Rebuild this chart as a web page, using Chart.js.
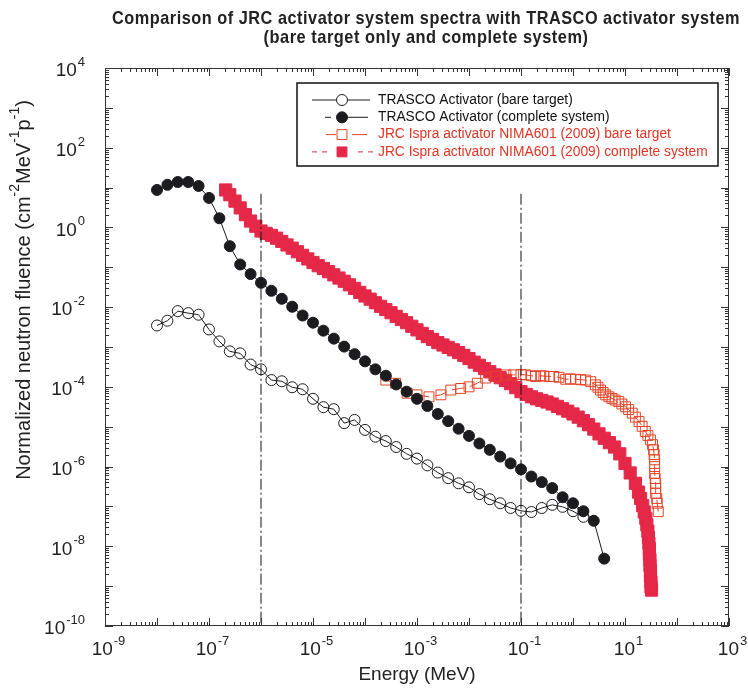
<!DOCTYPE html>
<html>
<head>
<meta charset="utf-8">
<script src="https://cdn.jsdelivr.net/npm/chart.js@4.4.0/dist/chart.umd.min.js"></script>
<style>
  html, body { margin: 0; padding: 0; background: #fff; }
  #wrap { width: 748px; height: 689px; }
</style>
</head>
<body>
<div id="wrap"><canvas id="spectra" width="748" height="689"></canvas></div>
<script>
// TRASCO activator, log10(E / MeV) grid and log10 fluence
const trascoLogE = [-8.0, -7.8, -7.6, -7.4, -7.2, -7.0, -6.8, -6.6, -6.4, -6.2,
                    -6.0, -5.8, -5.6, -5.4, -5.2, -5.0, -4.8, -4.6, -4.4, -4.2,
                    -4.0, -3.8, -3.6, -3.4, -3.2, -3.0, -2.8, -2.6, -2.4, -2.2,
                    -2.0, -1.8, -1.6, -1.4, -1.2, -1.0, -0.8, -0.6, -0.4, -0.2,
                    0.0, 0.2, 0.4, 0.6];
const trascoBare = [-2.46, -2.34, -2.10, -2.15, -2.19, -2.56, -2.86, -3.11, -3.16, -3.44,
                    -3.56, -3.83, -3.86, -4.01, -4.06, -4.30, -4.51, -4.56, -4.91, -4.83,
                    -5.08, -5.25, -5.36, -5.51, -5.68, -5.80, -5.97, -6.15, -6.29, -6.42,
                    -6.52, -6.69, -6.82, -6.92, -7.04, -7.11, -7.14, -7.04, -6.96, -7.01,
                    -7.12, -7.26];
const trascoComplete = [0.94, 1.07, 1.14, 1.14, 1.04, 0.74, 0.23, -0.47, -0.93, -1.17,
                        -1.39, -1.59, -1.79, -1.99, -2.21, -2.39, -2.59, -2.79, -2.99, -3.18,
                        -3.36, -3.56, -3.72, -3.94, -4.12, -4.30, -4.48, -4.68, -4.86, -5.05,
                        -5.23, -5.42, -5.58, -5.75, -5.92, -6.07, -6.25, -6.39, -6.54, -6.77,
                        -6.92, -7.12, -7.36, -8.31];

// JRC Ispra NIMA601 (2009), bare target
const jrcBareLogE = [-3.60, -3.41, -3.19, -3.00, -2.77, -2.54, -2.35, -2.16, -2.00, -1.84,
                     -1.68, -1.49, -1.29, -1.14, -1.00, -0.91, -0.80, -0.72, -0.62, -0.56,
                     -0.45, -0.37, -0.27, -0.14, -0.05, 0.05, 0.15, 0.24, 0.34, 0.43,
                     0.48, 0.53, 0.58, 0.63, 0.69, 0.75, 0.81, 0.88, 0.94, 1.01,
                     1.07, 1.14, 1.20, 1.27, 1.33, 1.39, 1.44, 1.49, 1.53, 1.55,
                     1.56, 1.57, 1.57, 1.57, 1.58, 1.59, 1.59, 1.59, 1.61, 1.62, 1.64];
const jrcBare = [-3.83, -3.91, -4.16, -4.20, -4.25, -4.20, -4.08, -4.04, -4.00, -3.91,
                 -3.78, -3.74, -3.70, -3.70, -3.69, -3.70, -3.72, -3.74, -3.72, -3.73,
                 -3.74, -3.74, -3.76, -3.81, -3.80, -3.81, -3.82, -3.83, -3.87, -3.95,
                 -4.01, -4.08, -4.14, -4.20, -4.25, -4.29, -4.33, -4.37, -4.43, -4.50,
                 -4.57, -4.66, -4.76, -4.87, -4.99, -5.12, -5.22, -5.33, -5.45, -5.58,
                 -5.70, -5.83, -6.00, -6.17, -6.30, -6.42, -6.55, -6.67, -6.80, -6.92, -7.13];

// JRC Ispra NIMA601 (2009), complete system
const jrcCompleteLogE = [-6.68, -6.60, -6.50, -6.40, -6.30, -6.20, -6.10, -6.00, -5.90, -5.80,
                         -5.70, -5.60, -5.50, -5.40, -5.30, -5.20, -5.10, -5.00, -4.90, -4.80,
                         -4.70, -4.60, -4.50, -4.40, -4.30, -4.20, -4.10, -4.00, -3.90, -3.80,
                         -3.70, -3.60, -3.50, -3.40, -3.30, -3.20, -3.10, -3.00, -2.90, -2.80,
                         -2.70, -2.60, -2.50, -2.40, -2.30, -2.20, -2.10, -2.00, -1.90, -1.80,
                         -1.70, -1.60, -1.50, -1.40, -1.30, -1.20, -1.10, -1.00, -0.90, -0.80,
                         -0.70, -0.60, -0.50, -0.40, -0.30, -0.20, -0.10, 0.00, 0.10, 0.20,
                         0.30, 0.40, 0.50, 0.60, 0.70, 0.80, 0.90, 1.00, 1.10, 1.20,
                         1.26, 1.30, 1.34, 1.37, 1.40, 1.42, 1.44, 1.45, 1.46, 1.47,
                         1.47, 1.48, 1.48, 1.49, 1.49, 1.50, 1.50, 1.51];
const jrcComplete = [0.94, 0.82, 0.66, 0.49, 0.32, 0.16, 0.03, -0.09, -0.15, -0.20,
                     -0.27, -0.35, -0.44, -0.52, -0.61, -0.70, -0.79, -0.88, -0.96, -1.03,
                     -1.11, -1.19, -1.27, -1.35, -1.44, -1.53, -1.63, -1.72, -1.80, -1.89,
                     -1.98, -2.06, -2.14, -2.23, -2.31, -2.39, -2.48, -2.57, -2.66, -2.74,
                     -2.81, -2.89, -2.95, -3.01, -3.07, -3.14, -3.21, -3.29, -3.38, -3.46,
                     -3.54, -3.62, -3.70, -3.77, -3.84, -3.92, -4.02, -4.12, -4.19, -4.25,
                     -4.30, -4.34, -4.38, -4.43, -4.49, -4.55, -4.61, -4.68, -4.76, -4.85,
                     -4.95, -5.06, -5.18, -5.29, -5.40, -5.51, -5.68, -5.92, -6.16, -6.42,
                     -6.64, -6.80, -6.98, -7.14, -7.30, -7.46, -7.62, -7.78, -7.92, -8.06,
                     -8.20, -8.34, -8.48, -8.62, -8.76, -8.90, -9.02, -9.10];

// thermal / fast boundaries marked with dash-dot lines (MeV)
const boundaryEnergies = [1e-6, 1e-1];
const boundaryRange = [7, 1e-10];

// axis decades and labelled decades
const xDecades = [-9, -8, -7, -6, -5, -4, -3, -2, -1, 0, 1, 2, 3];
const yDecades = [-10, -9, -8, -7, -6, -5, -4, -3, -2, -1, 0, 1, 2, 3, 4];
const xLabels = [-9, -7, -5, -3, -1, 1, 3];
const yLabels = [-10, -8, -6, -4, -2, 0, 2, 4];

const toPoints = (logE, logF) => logF.map((f, i) => ({ x: Math.pow(10, logE[i]), y: Math.pow(10, f) }));

const RED = 'rgb(229,40,72)';
const ORANGE = 'rgb(228,68,38)';
const INK = '#1c1c20';
const SANS = '"Liberation Sans", Arial, sans-serif';

const vlines = boundaryEnergies.map(e => ({
  data: boundaryRange.map(v => ({ x: e, y: v })),
  showLine: true, pointRadius: 0, borderColor: '#111', borderWidth: 1,
  borderDash: [11, 3, 2, 3]
}));

// legend samples: line pieces [x0, x1] around the marker
const legendRows = [
  { text: 'TRASCO Activator (bare target)', color: '#111', ds: 2, open: true, pieces: [[312, 337], [347, 370]] },
  { text: 'TRASCO Activator (complete system)', color: '#111', ds: 3, pieces: [[325, 331], [347, 368]] },
  { text: 'JRC Ispra activator NIMA601 (2009) bare target', color: 'rgb(226,52,36)', ds: 1, open: true, pieces: [[326, 336], [352, 367]] },
  { text: 'JRC Ispra activator NIMA601 (2009) complete system', color: 'rgb(226,52,36)', ds: 0,
    pieces: [[312, 317], [322, 327], [358, 363], [368, 373]] }
];

function drawPower(ctx, exp, x, y, align, size) {
  const base = size + 'px ' + SANS;
  const sup = Math.round(size * 0.68) + 'px ' + SANS;
  ctx.font = base;
  const wb = ctx.measureText('10').width;
  ctx.font = sup;
  const we = ctx.measureText(exp).width;
  const x0 = align === 'center' ? x - (wb + we) / 2 : x - wb - we - 1;
  ctx.textAlign = 'left';
  ctx.textBaseline = 'middle';
  ctx.font = base;
  ctx.fillText('10', x0, y);
  ctx.font = sup;
  ctx.fillText(exp, x0 + wb + 1, y - size * 0.45);
}

// runs of [text, superscript?] drawn left to right, centred on x
function drawRich(ctx, parts, x, y, size) {
  const sup = Math.round(size * 0.68);
  let w = 0;
  parts.forEach(([t, s]) => { ctx.font = (s ? sup : size) + 'px ' + SANS; w += ctx.measureText(t).width; });
  let cx = x - w / 2;
  ctx.textAlign = 'left';
  ctx.textBaseline = 'middle';
  parts.forEach(([t, s]) => {
    ctx.font = (s ? sup : size) + 'px ' + SANS;
    ctx.fillText(t, cx, s ? y - size * 0.42 : y);
    cx += ctx.measureText(t).width;
  });
}

// condensed bold title line, squeezed to a given width
function drawTitleLine(ctx, text, cx, y, width) {
  ctx.font = 'bold 18.5px ' + SANS;
  ctx.letterSpacing = '0.6px';
  const w = ctx.measureText(text).width;
  ctx.save();
  ctx.translate(cx, y);
  ctx.scale(width / w, 1);
  ctx.textAlign = 'center';
  ctx.textBaseline = 'middle';
  ctx.fillText(text, 0, 0);
  ctx.restore();
  ctx.letterSpacing = '0px';
}

const framePlugin = {
  id: 'framePlugin',
  afterDatasetsDraw(chart) {
    const { ctx, chartArea: a, scales: { x, y } } = chart;
    ctx.save();
    ctx.strokeStyle = '#333';
    ctx.lineWidth = 1;
    ctx.strokeRect(a.left + 0.5, a.top + 0.5, a.right - a.left - 1, a.bottom - a.top - 1);

    // inward ticks on all four sides
    ctx.beginPath();
    xDecades.forEach(d => {
      for (let k = 1; k <= 9; k++) {
        const v = k * Math.pow(10, d);
        if (v > 1e3) break;
        const px = Math.round(x.getPixelForValue(v)) + 0.5;
        const len = k === 1 ? 8 : 4;
        ctx.moveTo(px, a.bottom); ctx.lineTo(px, a.bottom - len);
        ctx.moveTo(px, a.top); ctx.lineTo(px, a.top + len);
      }
    });
    yDecades.forEach(d => {
      for (let k = 1; k <= 9; k++) {
        const v = k * Math.pow(10, d);
        if (v > 1e4) break;
        const py = Math.round(y.getPixelForValue(v)) + 0.5;
        const len = k === 1 ? 8 : 4;
        ctx.moveTo(a.left, py); ctx.lineTo(a.left + len, py);
        ctx.moveTo(a.right, py); ctx.lineTo(a.right - len, py);
      }
    });
    ctx.stroke();

    ctx.fillStyle = '#222';
    xLabels.forEach(d => drawPower(ctx, String(d), x.getPixelForValue(Math.pow(10, d)) + 3, a.bottom + 24, 'center', 19));
    yLabels.forEach(d => drawPower(ctx, String(d), a.left - 20, y.getPixelForValue(Math.pow(10, d)) + 3, 'right', 19));

    // axis titles
    ctx.font = '19px ' + SANS;
    ctx.textAlign = 'center';
    ctx.textBaseline = 'middle';
    ctx.fillText('Energy (MeV)', (a.left + a.right) / 2, 675);
    ctx.save();
    ctx.translate(24, 290);
    ctx.rotate(-Math.PI / 2);
    drawRich(ctx, [['Normalized neutron fluence (cm', 0], ['-2', 1], ['MeV', 0], ['-1', 1], ['p', 0], ['-1', 1], [')', 0]], 0, 0, 20);
    ctx.restore();

    // chart title
    ctx.fillStyle = '#222';
    drawTitleLine(ctx, 'Comparison of JRC activator system spectra with TRASCO activator system', 426, 19, 628);
    drawTitleLine(ctx, '(bare target only and complete system)', 426, 38, 325);

    // legend box
    ctx.fillStyle = '#fff';
    ctx.fillRect(297, 83, 421, 83);
    ctx.strokeStyle = '#111';
    ctx.lineWidth = 1.5;
    ctx.strokeRect(297, 83, 421, 83);
    legendRows.forEach((row, i) => {
      const ly = 100 + i * 17.3;
      const ds = chart.data.datasets[row.ds];
      ctx.strokeStyle = ds.borderColor;
      ctx.lineWidth = 1;
      ctx.beginPath();
      row.pieces.forEach(([p0, p1]) => { ctx.moveTo(p0, ly); ctx.lineTo(p1, ly); });
      ctx.stroke();
      ctx.fillStyle = row.open ? '#fff' : ds.pointBackgroundColor;
      ctx.strokeStyle = ds.pointBorderColor;
      ctx.lineWidth = 1;
      Chart.helpers.drawPoint(ctx, {
        pointStyle: ds.pointStyle, radius: Math.min(ds.pointRadius, 7), rotation: 0, borderWidth: 1
      }, 342, ly);
      ctx.fillStyle = row.color;
      ctx.font = '13.8px ' + SANS;
      ctx.textAlign = 'left';
      ctx.textBaseline = 'middle';
      ctx.fillText(row.text, 378, ly);
    });
    ctx.restore();
  }
};

new Chart(document.getElementById('spectra'), {
  type: 'scatter',
  data: {
    datasets: [
      {
        label: 'JRC Ispra activator NIMA601 (2009) complete system',
        data: toPoints(jrcCompleteLogE, jrcComplete),
        showLine: true, borderColor: RED, borderWidth: 1, borderDash: [5, 5],
        pointStyle: 'rect', pointRadius: 8.6, pointBackgroundColor: RED, pointBorderColor: RED,
        order: 5
      },
      {
        label: 'JRC Ispra activator NIMA601 (2009) bare target',
        data: toPoints(jrcBareLogE, jrcBare),
        showLine: true, borderColor: ORANGE, borderWidth: 1, borderDash: [12, 6],
        pointStyle: 'rect', pointRadius: 7, pointBackgroundColor: 'rgba(255,255,255,0)',
        pointBorderColor: ORANGE, pointBorderWidth: 1,
        order: 4
      },
      {
        label: 'TRASCO Activator (bare target)',
        data: toPoints(trascoLogE, trascoBare),
        showLine: true, borderColor: INK, borderWidth: 1,
        pointStyle: 'circle', pointRadius: 5.5, pointBackgroundColor: 'rgba(255,255,255,0)',
        pointBorderColor: INK, pointBorderWidth: 1,
        order: 3
      },
      {
        label: 'TRASCO Activator (complete system)',
        data: toPoints(trascoLogE, trascoComplete),
        showLine: true, borderColor: INK, borderWidth: 1,
        pointStyle: 'circle', pointRadius: 5.5, pointBackgroundColor: INK,
        pointBorderColor: INK, pointBorderWidth: 1,
        order: 2
      },
      Object.assign({ label: 'E1', order: 1 }, vlines[0]),
      Object.assign({ label: 'E2', order: 1 }, vlines[1])
    ]
  },
  options: {
    responsive: false,
    animation: false,
    layout: { padding: { left: 105, right: 19, top: 68, bottom: 63 } },
    plugins: { legend: { display: false }, tooltip: { enabled: false } },
    scales: {
      x: { type: 'logarithmic', min: 1e-9, max: 1e3, display: false },
      y: { type: 'logarithmic', min: 1e-10, max: 1e4, display: false }
    }
  },
  plugins: [framePlugin]
});
</script>
</body>
</html>
